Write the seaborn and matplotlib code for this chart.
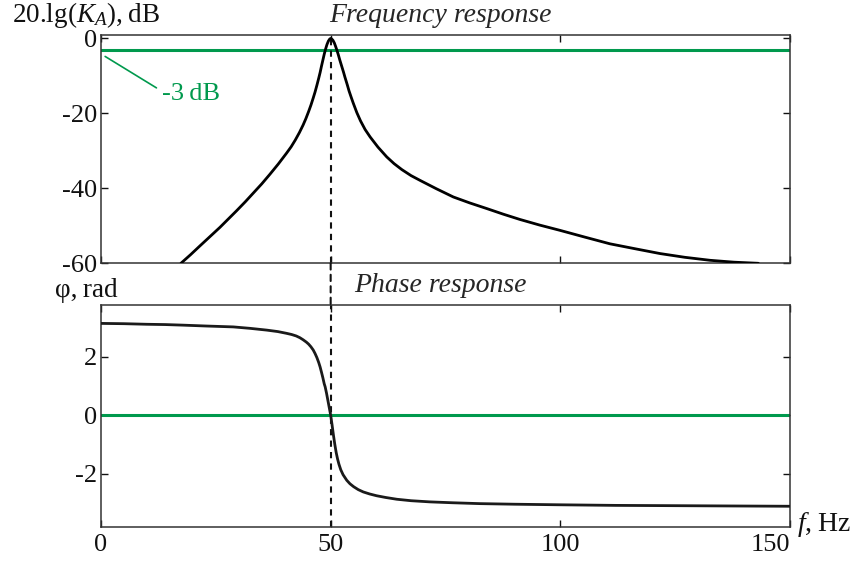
import matplotlib
matplotlib.use("Agg")
import matplotlib.pyplot as plt
from matplotlib.patches import ConnectionPatch
import seaborn as sns

# Amplitude response of the resonant filter, dB
freq_mag = [17.4, 19.5, 21.5, 23.7, 25.9, 27.7, 29.5, 31.4, 33.2, 35.0, 36.8, 38.6,
            40.4, 41.4, 42.3, 43.2, 44.0, 44.6, 45.2, 45.7, 46.2, 46.6, 47.0, 47.4,
            47.7, 48.0, 48.3, 48.6, 48.9, 49.2, 49.5, 49.8, 50.0, 50.2, 50.5, 50.8,
            51.1, 51.4, 51.7, 52.0, 52.4, 52.8, 53.1, 53.6, 54.0, 54.5, 54.9, 55.7,
            56.5, 57.5, 58.6, 60.3, 62.2, 63.8, 65.5, 67.5, 69.5, 73.0, 76.7, 80.3,
            84.0, 87.6, 91.2, 95.5, 99.9, 105.3, 110.8, 116.2, 121.7, 127.1, 132.6,
            137.8, 143.1]
mag_db = [-60.0, -57.7, -55.4, -52.9, -50.4, -48.2, -46.0, -43.6, -41.2, -38.8, -36.2, -33.5,
          -30.6, -28.9, -27.1, -25.1, -23.1, -21.4, -19.5, -17.8, -15.9, -14.3, -12.5, -10.6,
          -9.1, -7.4, -5.8, -4.2, -2.8, -1.6, -0.7, -0.15, 0.0, -0.1, -0.5, -1.2,
          -2.2, -3.3, -4.5, -5.8, -7.4, -9.0, -10.3, -12.3, -14.0, -15.8, -17.2, -19.8,
          -22.0, -24.3, -26.3, -29.0, -31.6, -33.4, -35.0, -36.6, -37.9, -40.1, -42.3, -43.9,
          -45.4, -46.9, -48.3, -49.8, -51.2, -53.0, -54.8, -56.1, -57.4, -58.4, -59.2,
          -59.7, -60.0]

# Phase response, rad
freq_ph = [0, 5, 10, 14, 17.9, 23, 28.8, 32.5, 36.1, 38.5, 40.4, 41.5, 42.5, 43.3, 44.0,
           44.7, 45.2, 45.7, 46.2, 46.6, 47.0, 47.4, 47.7, 48.0, 48.3, 48.6, 48.8, 49.1,
           49.4, 49.7, 50.0, 50.3, 50.6, 50.9, 51.2, 51.5, 51.8, 52.2, 52.7, 53.5, 54.2,
           55.0, 56.0, 57.1, 58.5, 60.0, 62.0, 64.4, 67.5, 71.6, 76.5, 82.5, 90, 100, 112,
           125, 137, 150]
phase = [3.14, 3.13, 3.11, 3.10, 3.08, 3.05, 3.02, 2.97, 2.91, 2.86, 2.80, 2.76, 2.71, 2.65,
         2.58, 2.50, 2.43, 2.34, 2.23, 2.11, 1.97, 1.80, 1.65, 1.47, 1.28, 1.07, 0.97, 0.75,
         0.50, 0.25, 0.0, -0.33, -0.68, -1.00, -1.28, -1.50, -1.68, -1.87, -2.04, -2.23, -2.35,
         -2.45, -2.55, -2.63, -2.70, -2.76, -2.82, -2.88, -2.93, -2.97, -3.00, -3.03, -3.05,
         -3.07, -3.09, -3.10, -3.11, -3.12]

f0 = 50
cutoff_db = -3
x_ticks = [0, 50, 100, 150]
mag_ticks = [0, -20, -40, -60]
ph_ticks = [-2, 0, 2]

GREEN = "#00994d"
INK = "#111111"

sns.set_theme(style="ticks")
plt.rcParams["font.family"] = ["Liberation Serif", "DejaVu Serif"]
plt.rcParams["mathtext.fontset"] = "custom"
plt.rcParams["mathtext.rm"] = "Liberation Serif"
plt.rcParams["mathtext.it"] = "Liberation Serif:italic"

W, H = 852, 564
fig = plt.figure(figsize=(W / 100, H / 100), dpi=100)


def px_box(left, top, right, bottom):
    return [left / W, 1 - bottom / H, (right - left) / W, (bottom - top) / H]


ax1 = fig.add_axes(px_box(101, 34.7, 790, 263.3))
ax2 = fig.add_axes(px_box(101, 305, 790, 527))

for ax in (ax1, ax2):
    ax.set_xlim(0, 150)
    ax.set_xticks(x_ticks)
    ax.tick_params(direction="in", top=True, right=True, length=5, width=1,
                   labelsize=19, colors=INK)
    ax.tick_params(axis="y", pad=3)
    ax.tick_params(axis="x", pad=5)
    for s in ax.spines.values():
        s.set_visible(True)
        s.set_linewidth(1.1)
        s.set_color("#333333")
    ax.set_xlabel("")
    ax.set_ylabel("")

# Top: amplitude response
ax1.set_ylim(-60, 1)
ax1.set_yticks(mag_ticks)
ax1.set_yticklabels([str(v) for v in mag_ticks])
ax1.set_xticklabels([])
ax1.axhline(cutoff_db, color=GREEN, lw=2.2, zorder=1)
sns.lineplot(x=freq_mag, y=mag_db, ax=ax1, color="black", lw=2.0, sort=False, zorder=3)
ax1.axvline(f0, color=INK, lw=1.5, ls=(0, (3, 2.5)), zorder=2)
ax1.set_title("Frequency response", fontstyle="italic", fontsize=20, pad=9, x=0.492)
ax1.annotate("-3\u2009dB", xy=(0.9, -4.8), xytext=(13.3, -16.3), color=GREEN, fontsize=19,
             ha="left", va="baseline",
             arrowprops=dict(arrowstyle="-", color=GREEN, lw=1.2, shrinkA=2, shrinkB=0,
                             relpos=(0, 0.6)))

# Bottom: phase response
ax2.set_ylim(-3.83, 3.77)
ax2.set_yticks(ph_ticks)
ax2.set_yticklabels([str(v) for v in ph_ticks])
ax2.axhline(0, color=GREEN, lw=2.2, zorder=1)
sns.lineplot(x=freq_ph, y=phase, ax=ax2, color="#1a1a1a", lw=2.0, sort=False, zorder=3)
ax2.axvline(f0, color=INK, lw=1.5, ls=(0, (3, 2.5)), zorder=2)
ax2.set_title("Phase response", fontstyle="italic", fontsize=20, pad=9, x=0.492)
ax2.set_xticklabels([str(v) for v in x_ticks])
ax2.get_xticklabels()[-1].set_ha("right")

# dashed marker of the resonance across the gap between the panels
gap = ConnectionPatch(xyA=(f0, -60), coordsA=ax1.transData,
                      xyB=(f0, 3.77), coordsB=ax2.transData,
                      color=INK, lw=1.5, ls=(0, (3, 2.5)))
fig.add_artist(gap)

# axis captions
fig.text(12 / W, 1 - 21.5 / H, "20.lg($K_A$),\u2009dB", fontsize=19.5, ha="left",
         va="baseline", color=INK)
fig.text(55 / W, 1 - 297 / H, "φ,\u2009rad", fontsize=19.5, ha="left", va="baseline",
         color=INK)
fig.text(797 / W, 1 - 531 / H, "$f$,\u2009Hz", fontsize=20, ha="left", va="baseline",
         color=INK)

fig.savefig("out.png", dpi=100)
